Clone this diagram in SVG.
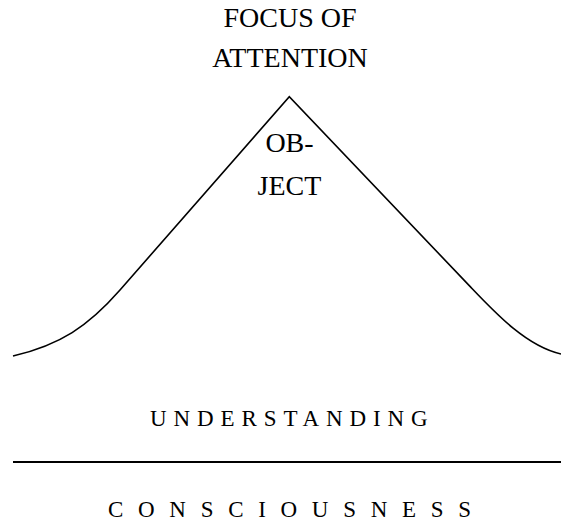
<svg xmlns="http://www.w3.org/2000/svg" width="561" height="525" viewBox="0 0 561 525">
<style>
text{font-family:'Liberation Serif','Times New Roman','DejaVu Serif',serif;fill:#000}
.big{font-size:28px}
.mid{font-size:23px}
.ln{fill:none;stroke:#000}
</style>
<rect width="561" height="525" fill="#fff"/>
<g id="focus">
<text class="big" x="290" y="27" text-anchor="middle" font-family="Liberation Serif, serif">FOCUS OF</text>
<text class="big" x="290" y="67" text-anchor="middle" font-family="Liberation Serif, serif">ATTENTION</text>
</g>
<g id="object">
<text class="big" x="289.5" y="152" text-anchor="middle" font-family="Liberation Serif, serif">OB-</text>
<text class="big" x="289.5" y="195" text-anchor="middle" font-family="Liberation Serif, serif">JECT</text>
</g>
<g id="connectors">
<path id="peak" class="ln" stroke-width="1.6" d="M13,356 C60,345 88,326.5 120,290 L289.3,96.7 L470,286.4 C495,312.6 526,346 561,354"/>
<line id="divider" class="ln" stroke-width="2.2" x1="13" y1="462" x2="561" y2="462"/>
</g>
<g id="understanding">
<text class="mid" x="150" y="426" letter-spacing="6.9" font-family="Liberation Serif, serif">UNDERSTANDING</text>
</g>
<g id="consciousness">
<text class="mid" x="108" y="517" letter-spacing="14.7" font-family="Liberation Serif, serif">CONSCIOUSNESS</text>
</g>
</svg>
